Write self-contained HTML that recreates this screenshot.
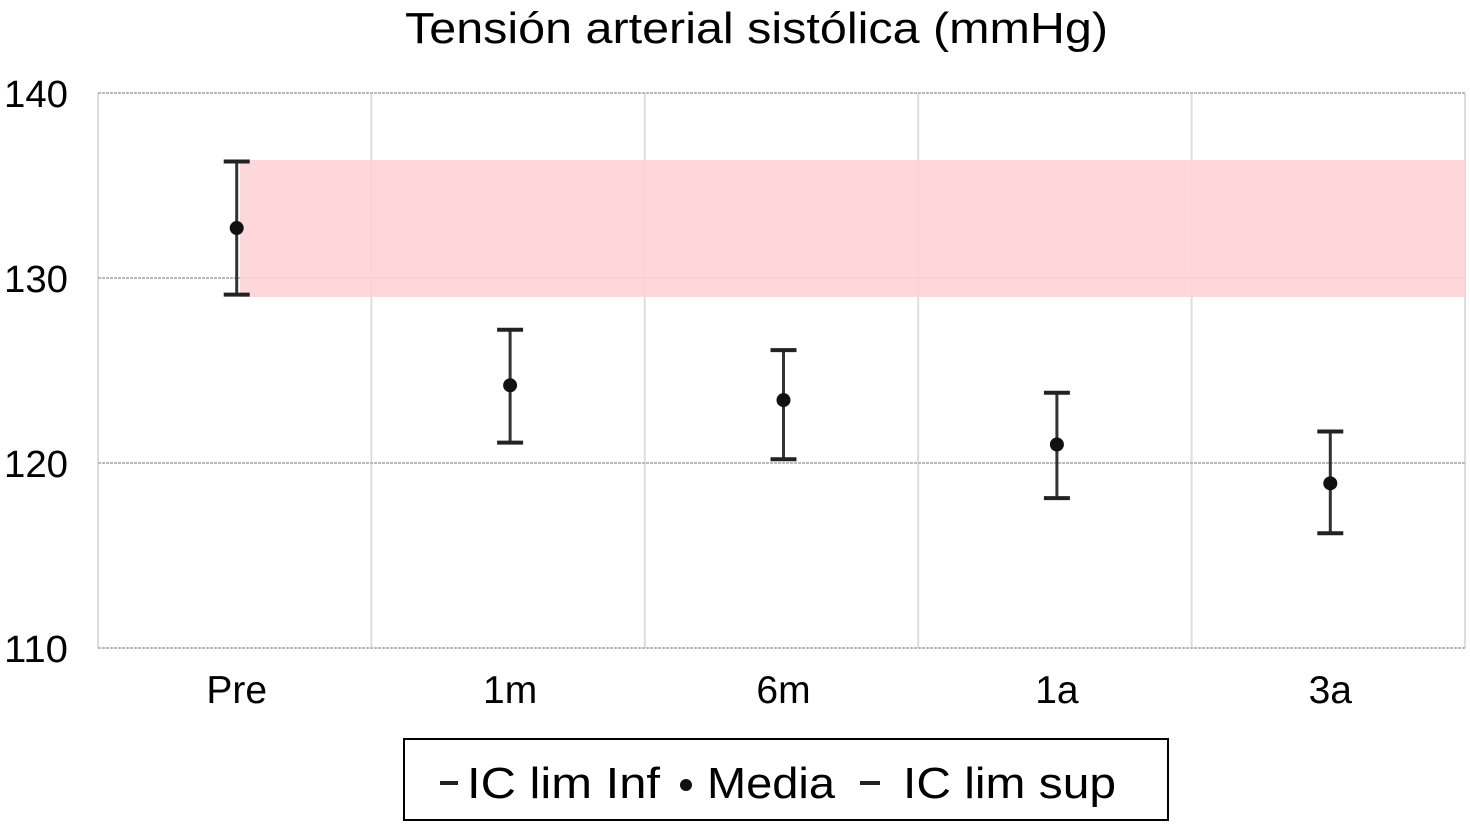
<!DOCTYPE html>
<html><head><meta charset="utf-8"><style>
body{margin:0;background:#fff;width:1470px;height:823px;overflow:hidden}
svg text{font-family:"Liberation Sans",Arial,sans-serif;fill:#000}
</style></head><body>
<svg id="c" width="1470" height="823">
<text x="405" y="43" font-size="44" textLength="703" lengthAdjust="spacingAndGlyphs">Tensión arterial sistólica (mmHg)</text>
<g id="grid"></g>
<rect x="240" y="160" width="1225" height="137" fill="#fdd3d6" opacity="0.9"/>
<g id="marks"></g>
<g>
<rect x="404" y="739" width="764" height="81" fill="#fff" stroke="#000" stroke-width="2"/>
<line x1="440" y1="783" x2="458" y2="783" stroke="#222" stroke-width="4"/>
<text x="467" y="798" font-size="44" textLength="193" lengthAdjust="spacingAndGlyphs">IC lim Inf</text>
<circle cx="686" cy="785" r="6" fill="#111"/>
<text x="707" y="798" font-size="44" textLength="128" lengthAdjust="spacingAndGlyphs">Media</text>
<line x1="860" y1="783" x2="880" y2="783" stroke="#222" stroke-width="4"/>
<text x="903" y="798" font-size="44" textLength="213" lengthAdjust="spacingAndGlyphs">IC lim sup</text>
</g>
</svg>
<script>
const categories=["Pre","1m","6m","1a","3a"];
const means=[132.7,124.2,123.4,121.0,118.9];
const upper=[136.3,127.2,126.1,123.8,121.7];
const lower=[129.1,121.1,120.2,118.1,116.2];
const yTicks=[110,120,130,140];
const L=98,R=1465,T=93,B=648,ymin=110,ymax=140;
const bw=(R-L)/categories.length;
const y=v=>B-(v-ymin)/(ymax-ymin)*(B-T);
const x=i=>L+bw*(i+0.5)+2;
const NS="http://www.w3.org/2000/svg";
function mk(t,a,p){const e=document.createElementNS(NS,t);for(const k in a)e.setAttribute(k,a[k]);p.appendChild(e);return e;}
const g=document.getElementById('grid'),m=document.getElementById('marks');
for(let i=0;i<=categories.length;i++){
 const l=mk('line',{x1:L+bw*i,x2:L+bw*i,y1:T,y2:B,stroke:'#ddd','stroke-width':2},g);
 
 
}
yTicks.forEach(t=>{
 const l=mk('line',{x1:L,x2:R,y1:y(t),y2:y(t),stroke:'#bbb','stroke-width':2,'stroke-dasharray':'3 1'},g);
 
 
 const tx=mk('text',{x:4,y:y(t)+14,'font-size':38,textLength:64,lengthAdjust:'spacingAndGlyphs'},g);tx.textContent=t;
 
 
});
categories.forEach((c,i)=>{
 const tx=mk('text',{x:x(i),y:703,'font-size':39,'text-anchor':'middle'},g);tx.textContent=c;
 
 
 const eb=mk('g',{},m);
 
 
 mk('line',{x1:x(i),x2:x(i),y1:y(upper[i]),y2:y(lower[i]),stroke:'#333','stroke-width':3},eb);
 mk('line',{x1:x(i)-13,x2:x(i)+13,y1:y(upper[i]),y2:y(upper[i]),stroke:'#222','stroke-width':4},eb);
 mk('line',{x1:x(i)-13,x2:x(i)+13,y1:y(lower[i]),y2:y(lower[i]),stroke:'#222','stroke-width':4},eb);
 const p=mk('circle',{cx:x(i),cy:y(means[i]),r:7,fill:'#111'},m);
 
 
});
</script>
</body></html>
